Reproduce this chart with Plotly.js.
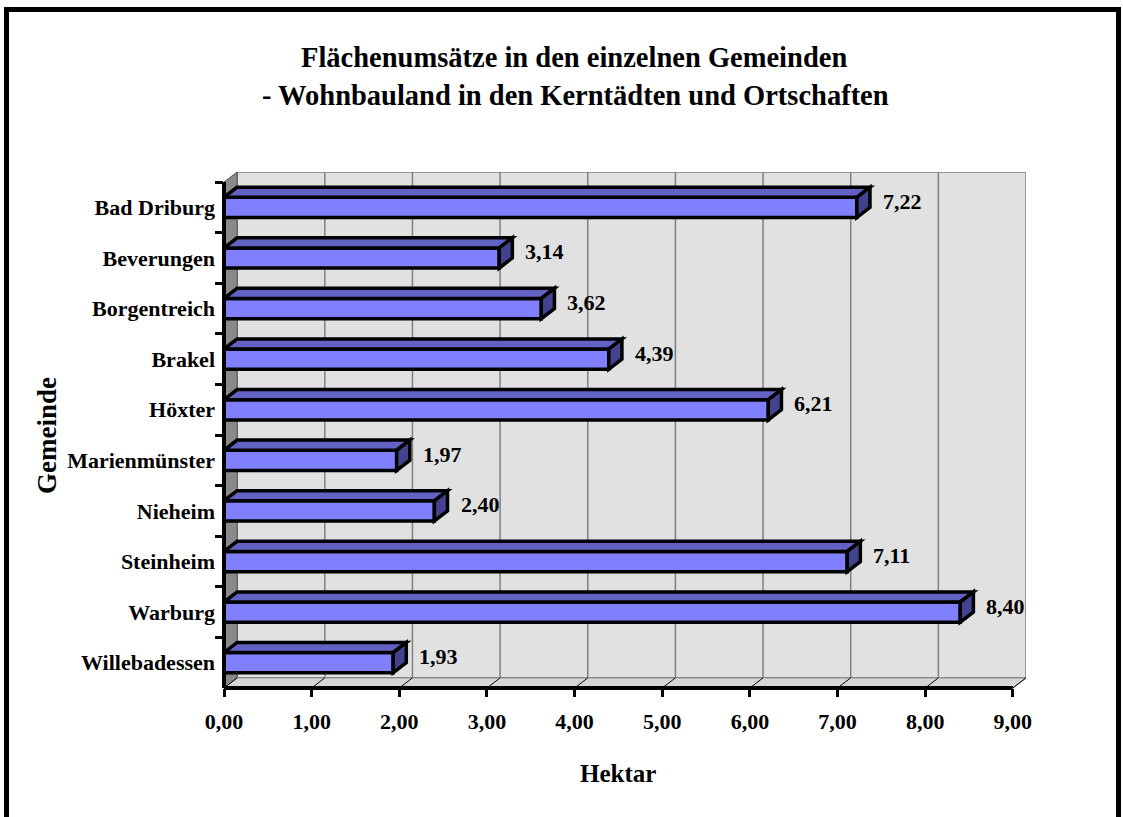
<!DOCTYPE html>
<html>
<head>
<meta charset="utf-8">
<script src="https://cdn.plot.ly/plotly-3.0.1.min.js"></script>
<style>
  html, body { margin: 0; padding: 0; background: #fff; }
  #chart { width: 1123px; height: 817px; }
</style>
</head>
<body>
<div id="chart"></div>
<script>
// DATA
const gemeinden = ['Bad Driburg', 'Beverungen', 'Borgentreich', 'Brakel', 'Höxter',
                   'Marienmünster', 'Nieheim', 'Steinheim', 'Warburg', 'Willebadessen'];
const hektar = [7.22, 3.14, 3.62, 4.39, 6.21, 1.97, 2.40, 7.11, 8.40, 1.93];
const xTicks = [0, 1, 2, 3, 4, 5, 6, 7, 8, 9];
const titleLines = ['Flächenumsätze in den einzelnen Gemeinden',
                    '- Wohnbauland in den Kerntädten und Ortschaften'];

// LAYOUT CONSTANTS
const W = 1123, H = 817;
const M = { l: 224, r: 97, t: 172, b: 129 };
const plotW = W - M.l - M.r, plotH = H - M.t - M.b;
const DX = 0.15;   // 3d depth in x units
const DY = 0.2;    // 3d depth in category units
const BAR_W = 0.4;
const FONT = 'Liberation Serif, Times New Roman, serif';

// pixel -> paper helpers (for frame/titles only)
function px(x) { return (x - M.l) / plotW; }
function py(y) { return (H - M.b - y) / plotH; }
function fmt(v) { return v.toFixed(2).replace('.', ','); }

let shapes = [];

// ================= WALLS & FLOOR =================
const yBot = gemeinden.length - 0.5, yTop = -0.5;
const xMax = xTicks[xTicks.length - 1];

shapes.push({ type: 'rect', xref: 'x', yref: 'y', layer: 'below',
    x0: DX, x1: xMax + DX, y0: yBot - DY, y1: yTop - DY,
    fillcolor: '#e1e1e1', line: { color: '#808080', width: 1.5 } });
shapes.push({ type: 'path', xref: 'x', yref: 'y', layer: 'below',
    path: `M 0,${yBot} L ${DX},${yBot - DY} L ${DX},${yTop - DY} L 0,${yTop} Z`,
    fillcolor: '#8a8a8a', line: { color: '#555', width: 1 } });
shapes.push({ type: 'path', xref: 'x', yref: 'y', layer: 'below',
    path: `M 0,${yBot} L ${xMax},${yBot} L ${xMax + DX},${yBot - DY} L ${DX},${yBot - DY} Z`,
    fillcolor: '#d6d6d6', line: { color: '#808080', width: 1 } });

xTicks.forEach(t => {
    if (t > 0 && t < xMax) {
        shapes.push({ type: 'line', xref: 'x', yref: 'y', layer: 'below',
            x0: t + DX, x1: t + DX, y0: yBot - DY, y1: yTop - DY,
            line: { color: '#808080', width: 1.5 } });
    }
    shapes.push({ type: 'line', xref: 'x', yref: 'y', layer: 'below',
        x0: t, x1: t + DX, y0: yBot, y1: yBot - DY,
        line: { color: '#000', width: 1 } });
});

// ================= 3D BAR FACES =================
gemeinden.forEach((g, i) => {
    let v = hektar[i];
    let top = i - BAR_W / 2, bot = i + BAR_W / 2;
    shapes.push({ type: 'path', xref: 'x', yref: 'y', layer: 'above',
        path: `M 0,${top} L ${v},${top} L ${v + DX},${top - DY} L ${DX},${top - DY} Z`,
        fillcolor: '#6262c4', line: { color: '#000', width: 3.5 } });
    shapes.push({ type: 'path', xref: 'x', yref: 'y', layer: 'above',
        path: `M ${v},${top} L ${v + DX},${top - DY} L ${v + DX},${bot - DY} L ${v},${bot} Z`,
        fillcolor: '#42428e', line: { color: '#000', width: 3.5 } });
});

// front axis lines
shapes.push({ type: 'line', xref: 'x', yref: 'paper', layer: 'above',
    x0: 0, x1: xMax, y0: 0, y1: 0, line: { color: '#000', width: 4 } });
shapes.push({ type: 'line', xref: 'paper', yref: 'y', layer: 'above',
    x0: 0, x1: 0, y0: yBot, y1: yTop, line: { color: '#000', width: 4 } });

// outer frame
shapes.push({ type: 'path', xref: 'paper', yref: 'paper', layer: 'above',
    path: `M ${px(6.5)},${py(830)} L ${px(6.5)},${py(9.5)} L ${px(1118.5)},${py(9.5)} L ${px(1118.5)},${py(830)}`,
    line: { color: '#000', width: 5 } });

// ================= ANNOTATIONS =================
let annotations = [];
gemeinden.forEach((g, i) => {
    annotations.push({ x: hektar[i] + DX, y: i - 0.12, xref: 'x', yref: 'y',
        text: fmt(hektar[i]), showarrow: false, xanchor: 'left', yanchor: 'middle', xshift: 11,
        font: { family: FONT, size: 22, color: '#000', weight: 'bold' } });
});
function label(text, x, y, size, angle) {
    return { x: px(x), y: py(y), xref: 'paper', yref: 'paper', text: text, showarrow: false,
        xanchor: 'center', yanchor: 'middle', textangle: angle || 0,
        font: { family: FONT, size: size, color: '#000', weight: 'bold' } };
}
annotations.push(label(titleLines[0], 574, 57, 28.5));
annotations.push(label(titleLines[1], 575, 96, 28.5));
annotations.push(label('Hektar', 618, 773, 25));
annotations.push(label('Gemeinde', 47, 436, 27, -90));

let traceBars = {
    type: 'bar', orientation: 'h', y: gemeinden, x: hektar, width: BAR_W,
    marker: { color: '#8080ff', line: { color: '#000', width: 3.5 } },
    hoverinfo: 'y+x', cliponaxis: false
};

let layout = {
    width: W, height: H, margin: M,
    paper_bgcolor: '#fff', plot_bgcolor: 'rgba(0,0,0,0)',
    separators: ',.', showlegend: false,
    xaxis: { range: [0, xMax + DX], tickvals: xTicks, tickformat: '.2f',
        showgrid: false, zeroline: false, showline: false,
        ticks: 'outside', ticklen: 8, tickwidth: 3, tickcolor: '#000', ticklabelstandoff: 6,
        tickfont: { family: FONT, size: 22, color: '#000', weight: 'bold' } },
    yaxis: { type: 'category', categoryorder: 'array', categoryarray: gemeinden,
        range: [yBot, yTop - DY], showgrid: false, zeroline: false, showline: false,
        ticks: 'outside', tickson: 'boundaries', ticklen: 8, tickwidth: 3, tickcolor: '#000',
        ticklabelstandoff: 8,
        tickfont: { family: FONT, size: 22, color: '#000', weight: 'bold' } },
    shapes: shapes, annotations: annotations
};

Plotly.newPlot('chart', [traceBars], layout, { displayModeBar: false });
</script>
</body>
</html>
